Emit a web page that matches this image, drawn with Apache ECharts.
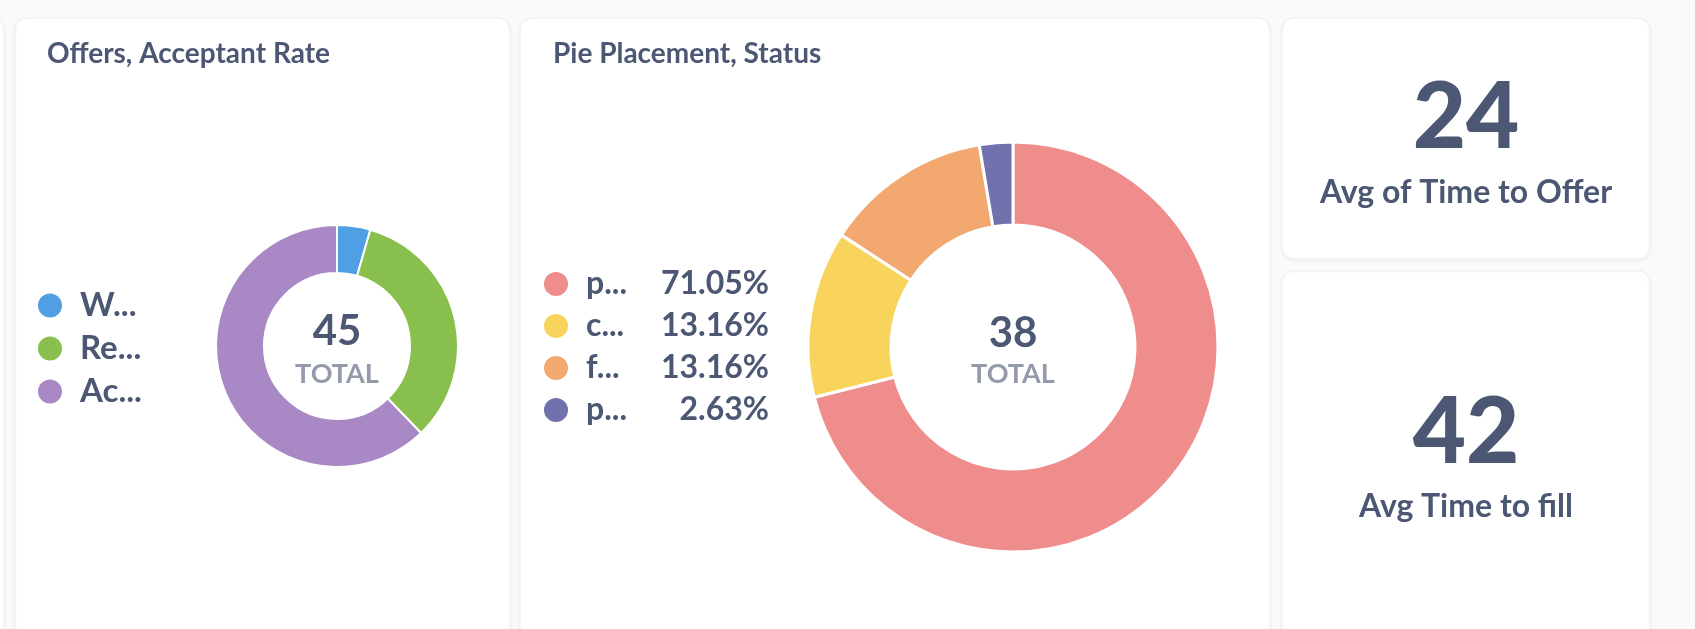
<!DOCTYPE html>
<html>
<head>
<meta charset="utf-8">
<script src="https://cdn.jsdelivr.net/npm/echarts@6/dist/echarts.min.js"></script>
<style>
  html, body { margin: 0; padding: 0; background: #F9FAFB; }
  #chart { width: 1695px; height: 629px; }
</style>
</head>
<body>
<div id="chart"></div>
<script>
// ---- data ----
const offersTitle = 'Offers, Acceptant Rate';
const offersLabels = ['W...', 'Re...', 'Ac...'];
const offersValues = [2, 15, 28];
const offersColors = ['#509EE3', '#88BF4D', '#A989C5'];

const placementTitle = 'Pie Placement, Status';
const placementLabels = ['p...', 'c...', 'f...', 'p...'];
const placementValues = [27, 5, 5, 1];
const placementColors = ['#EF8C8C', '#F9D45C', '#F2A86F', '#7172AD'];

const totalLabel = 'TOTAL';
const scalarValues = [24, 42];
const scalarLabels = ['Avg of Time to Offer', 'Avg Time to fill'];

// ---- styles ----
const DARK = '#4C5773';
const LIGHT = '#949AAB';
const FONT = 'Lato, "Noto Sans", sans-serif';

const sum = a => a.reduce((s, v) => s + v, 0);
const offersTotal = sum(offersValues);
const placementTotal = sum(placementValues);

const offersData = offersValues.map((v, i) => ({ name: 'o' + i, value: v, itemStyle: { color: offersColors[i] } }));
const placementData = placementValues.map((v, i) => ({ name: 'p' + i, value: v, itemStyle: { color: placementColors[i] } }));

function card(x, y, w, h) {
  return {
    type: 'rect', z: 0,
    shape: { x: x, y: y, width: w, height: h, r: 12 },
    style: { fill: '#FFFFFF', stroke: '#EDEFF2', lineWidth: 1,
             shadowBlur: 4, shadowOffsetY: 1, shadowColor: 'rgba(0,0,0,0.05)' }
  };
}
function txt(text, x, y, size, weight, color, align) {
  return {
    type: 'text', z: 10,
    style: { text: String(text), x: x, y: y, fill: color,
             fontSize: size, fontWeight: weight, fontFamily: FONT,
             align: align || 'center', verticalAlign: 'middle',
             textAlign: align || 'center', textVerticalAlign: 'middle' }
  };
}

const chart = echarts.init(document.getElementById('chart'), null, { renderer: 'canvas' });
chart.setOption({
  animation: false,
  backgroundColor: '#F9FAFB',
  graphic: [
    card(-100, 18, 104, 700),
    card(15, 18, 495, 700),
    card(520, 18, 750, 700),
    card(1282, 18, 368, 241),
    card(1282, 271, 368, 430),
    txt(offersTitle, 47, 54, 28, 'bold', DARK, 'left'),
    txt(placementTitle, 553, 54, 28, 'bold', DARK, 'left'),
    txt(offersTotal, 337, 331, 42, 'bold', DARK),
    txt(totalLabel, 337, 374, 27, 'bold', LIGHT),
    txt(placementTotal, 1013, 333, 42, 'bold', DARK),
    txt(totalLabel, 1013, 374, 27, 'bold', LIGHT),
    txt(scalarValues[0], 1466, 118, 92, 900, DARK),
    txt(scalarLabels[0], 1466, 193, 32, 'bold', DARK),
    txt(scalarValues[1], 1466, 433, 92, 900, DARK),
    txt(scalarLabels[1], 1466, 507, 32, 'bold', DARK)
  ],
  legend: [
    {
      data: offersData.map(d => d.name),
      orient: 'vertical', left: 36, top: 289, padding: 0,
      icon: 'circle', itemWidth: 26, itemHeight: 26, itemGap: 10,
      selectedMode: false,
      formatter: name => '{s| }{n|' + offersLabels[+name.slice(1)] + '}',
      textStyle: {
        color: DARK, fontFamily: FONT, fontSize: 32, fontWeight: 'bold', lineHeight: 32,
        rich: {
          s: { width: 12, fontSize: 32, lineHeight: 32 },
          n: { color: DARK, fontFamily: FONT, fontSize: 33, fontWeight: 'bold', lineHeight: 32 }
        }
      }
    },
    {
      data: placementData.map(d => d.name),
      orient: 'vertical', left: 542, top: 268, padding: 0,
      icon: 'circle', itemWidth: 26, itemHeight: 26, itemGap: 10,
      selectedMode: false,
      formatter: name => {
        const i = +name.slice(1);
        const pct = (placementValues[i] / placementTotal * 100).toFixed(2) + '%';
        return '{s| }{n|' + placementLabels[i] + '}{v|' + pct + '}';
      },
      textStyle: {
        color: DARK, fontFamily: FONT, fontSize: 32, fontWeight: 'bold', lineHeight: 32,
        rich: {
          s: { width: 12, fontSize: 32, lineHeight: 32 },
          n: { width: 60, color: DARK, fontFamily: FONT, fontSize: 32, fontWeight: 'bold', lineHeight: 32 },
          v: { width: 123, align: 'right', color: DARK, fontFamily: FONT, fontSize: 32, fontWeight: 'bold', lineHeight: 32 }
        }
      }
    }
  ],
  series: [
    {
      type: 'pie', center: [337, 346], radius: [73, 121],
      startAngle: 90, clockwise: true, silent: true,
      label: { show: false }, labelLine: { show: false },
      itemStyle: { borderColor: '#FFFFFF', borderWidth: 2 },
      emphasis: { disabled: true },
      data: offersData
    },
    {
      type: 'pie', center: [1013, 347], radius: [122, 205],
      startAngle: 90, clockwise: true, silent: true,
      label: { show: false }, labelLine: { show: false },
      itemStyle: { borderColor: '#FFFFFF', borderWidth: 3 },
      emphasis: { disabled: true },
      data: placementData
    }
  ]
});
</script>
</body>
</html>
